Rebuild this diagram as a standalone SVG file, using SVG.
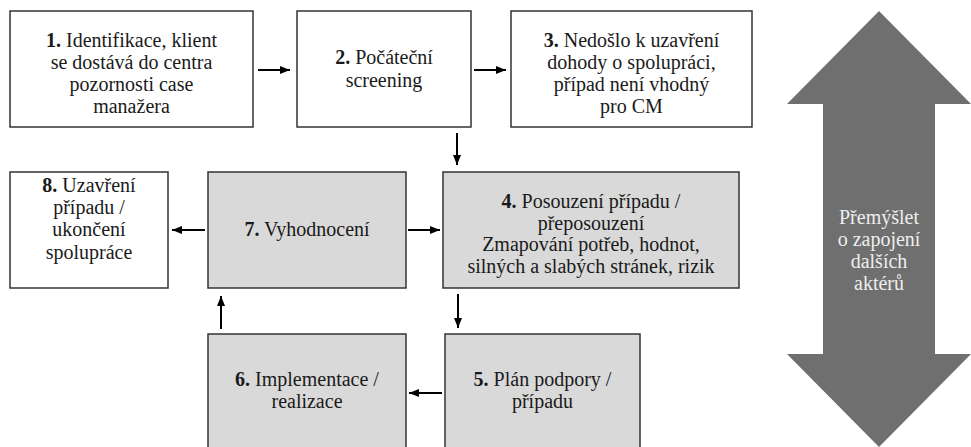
<svg xmlns="http://www.w3.org/2000/svg" width="971" height="447" viewBox="0 0 971 447">
<defs>
<style>
.box{fill:#ffffff;stroke:#333333;stroke-width:1.5}
.gbox{fill:#d9d9d9;stroke:#333333;stroke-width:1.5}
.t{fill:#1a1a1a;text-anchor:middle}
.b{font-weight:bold}
.w{fill:#eeeeee;text-anchor:middle}
.con{stroke:#000000;stroke-width:2;fill:none;marker-end:url(#ah)}
</style>
<marker id="ah" viewBox="0 0 10 8" refX="10" refY="4" markerWidth="10" markerHeight="8" markerUnits="userSpaceOnUse" orient="auto">
<path d="M0,0 L10,4 L0,8 Z" fill="#000000"/>
</marker>
</defs>
<rect width="971" height="447" fill="#ffffff"/>
<g id="bigarrow">
<polygon points="879,11 971,104 935,104 935,354 971,354 879,447 787,354 823,354 823,104 787,104" fill="#6f6f6f"/>
<text class="w" font-family="Liberation Serif, serif" font-size="20" x="879" y="224">Přemýšlet</text>
<text class="w" font-family="Liberation Serif, serif" font-size="20" x="879" y="246">o zapojení</text>
<text class="w" font-family="Liberation Serif, serif" font-size="20" x="879" y="268">dalších</text>
<text class="w" font-family="Liberation Serif, serif" font-size="20" x="879" y="290">aktérů</text>
</g>
<g id="n1">
<rect class="box" x="10" y="11" width="243" height="116"/>
<text class="t" font-family="Liberation Serif, serif" font-size="20" x="131.5" y="47"><tspan class="b">1.</tspan> Identifikace, klient</text>
<text class="t" font-family="Liberation Serif, serif" font-size="20" x="131.5" y="69">se dostává do centra</text>
<text class="t" font-family="Liberation Serif, serif" font-size="20" x="131.5" y="91">pozornosti case</text>
<text class="t" font-family="Liberation Serif, serif" font-size="20" x="131.5" y="113">manažera</text>
</g>
<g id="n2">
<rect class="box" x="297" y="11" width="174" height="116"/>
<text class="t" font-family="Liberation Serif, serif" font-size="20" x="384" y="64"><tspan class="b">2.</tspan> Počáteční</text>
<text class="t" font-family="Liberation Serif, serif" font-size="20" x="384" y="87">screening</text>
</g>
<g id="n3">
<rect class="box" x="511" y="11" width="241" height="116"/>
<text class="t" font-family="Liberation Serif, serif" font-size="20" x="631.5" y="47"><tspan class="b">3.</tspan> Nedošlo k uzavření</text>
<text class="t" font-family="Liberation Serif, serif" font-size="20" x="631.5" y="69">dohody o spolupráci,</text>
<text class="t" font-family="Liberation Serif, serif" font-size="20" x="631.5" y="91">případ není vhodný</text>
<text class="t" font-family="Liberation Serif, serif" font-size="20" x="631.5" y="113">pro CM</text>
</g>
<g id="n4">
<rect class="gbox" x="443" y="172" width="296" height="116"/>
<text class="t" font-family="Liberation Serif, serif" font-size="20" x="591" y="208"><tspan class="b">4.</tspan> Posouzení případu /</text>
<text class="t" font-family="Liberation Serif, serif" font-size="20" x="591" y="230">přeposouzení</text>
<text class="t" font-family="Liberation Serif, serif" font-size="20" x="591" y="251">Zmapování potřeb, hodnot,</text>
<text class="t" font-family="Liberation Serif, serif" font-size="20" x="591" y="273">silných a slabých stránek, rizik</text>
</g>
<g id="n5">
<rect class="gbox" x="445" y="334" width="195" height="120"/>
<text class="t" font-family="Liberation Serif, serif" font-size="20" x="542.5" y="386"><tspan class="b">5.</tspan> Plán podpory /</text>
<text class="t" font-family="Liberation Serif, serif" font-size="20" x="542.5" y="408">případu</text>
</g>
<g id="n6">
<rect class="gbox" x="208" y="334" width="198" height="120"/>
<text class="t" font-family="Liberation Serif, serif" font-size="20" x="307" y="386"><tspan class="b">6.</tspan> Implementace /</text>
<text class="t" font-family="Liberation Serif, serif" font-size="20" x="307" y="408">realizace</text>
</g>
<g id="n7">
<rect class="gbox" x="208" y="172" width="198" height="116"/>
<text class="t" font-family="Liberation Serif, serif" font-size="20" x="307" y="236"><tspan class="b">7.</tspan> Vyhodnocení</text>
</g>
<g id="n8">
<rect class="box" x="10" y="172" width="158" height="116"/>
<text class="t" font-family="Liberation Serif, serif" font-size="20" x="89" y="192"><tspan class="b">8.</tspan> Uzavření</text>
<text class="t" font-family="Liberation Serif, serif" font-size="20" x="89" y="214">případu /</text>
<text class="t" font-family="Liberation Serif, serif" font-size="20" x="89" y="236">ukončení</text>
<text class="t" font-family="Liberation Serif, serif" font-size="20" x="89" y="259">spolupráce</text>
</g>
<g id="connectors">
<line class="con" x1="258" y1="70" x2="290" y2="70"/>
<line class="con" x1="474" y1="70" x2="506" y2="70"/>
<line class="con" x1="457" y1="133" x2="457" y2="165"/>
<line class="con" x1="205" y1="230" x2="172" y2="230"/>
<line class="con" x1="408" y1="230" x2="440" y2="230"/>
<line class="con" x1="458" y1="294" x2="458" y2="328"/>
<line class="con" x1="442" y1="393" x2="409" y2="393"/>
<line class="con" x1="221" y1="329" x2="221" y2="296"/>
</g>
</svg>
